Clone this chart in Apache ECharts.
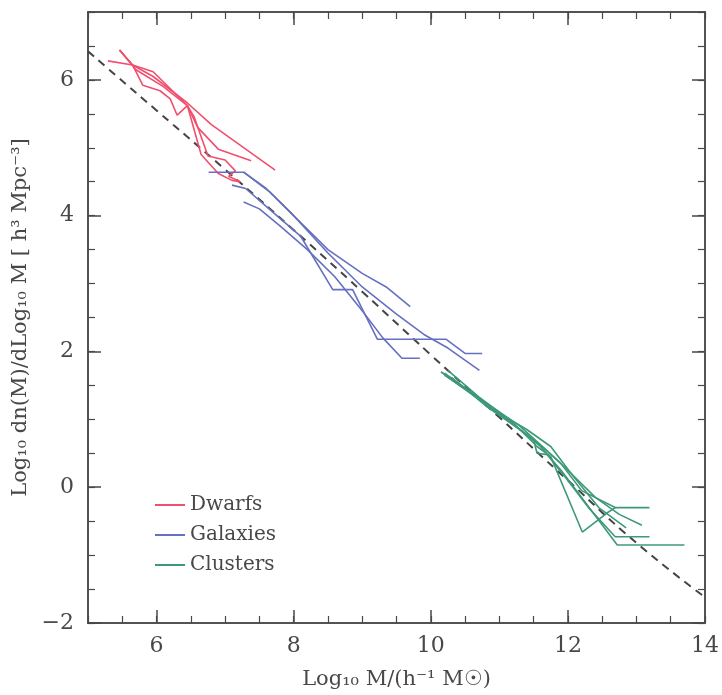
<!DOCTYPE html>
<html>
<head>
<meta charset="utf-8">
<script src="https://cdn.jsdelivr.net/npm/echarts@6/dist/echarts.min.js"></script>
<style>
  html, body { margin: 0; padding: 0; background: #fff; }
  #chart { width: 722px; height: 695px; }
</style>
</head>
<body>
<div id="chart"></div>
<script>
// mass function pieces: [log10 M, log10 dn/dlogM]
var dwarfs = [
  [[5.29,6.28],[5.65,6.22],[5.95,6.05],[6.45,5.66],[6.8,5.34],[7.73,4.67]],
  [[5.46,6.44],[5.65,6.22],[5.8,5.92],[6.05,5.84],[6.2,5.72],[6.3,5.48],[6.45,5.62],[6.6,5.3],[6.9,4.98],[7.38,4.81]],
  [[5.46,6.44],[5.65,6.22],[5.95,6.12],[6.45,5.62],[6.55,5.45],[6.75,4.88],[7.0,4.82],[7.15,4.66],[7.05,4.58],[7.22,4.5]],
  [[5.46,6.44],[5.7,6.15],[6.1,5.9],[6.45,5.62],[6.65,4.9],[6.9,4.62],[7.1,4.52],[7.22,4.5]]
];
var galaxies = [
  [[6.76,4.64],[7.27,4.64],[7.65,4.35],[8.05,3.95],[8.5,3.5],[9.0,3.15],[9.35,2.95],[9.7,2.66]],
  [[7.27,4.64],[7.6,4.4],[8.0,4.0],[8.5,3.45],[9.0,2.95],[9.5,2.55],[9.9,2.25],[10.25,2.05],[10.71,1.72]],
  [[7.1,4.45],[7.3,4.4],[7.7,4.05],[8.1,3.7],[8.57,2.91],[8.86,2.91],[9.22,2.18],[10.22,2.18],[10.5,1.97],[10.75,1.97]],
  [[7.27,4.2],[7.5,4.1],[7.8,3.85],[8.2,3.5],[8.6,3.1],[9.0,2.6],[9.3,2.2],[9.58,1.9],[9.84,1.9]]
];
var clusters = [
  [[10.15,1.7],[10.6,1.38],[11.1,1.0],[11.6,0.62],[11.9,0.35],[12.2,-0.05],[12.69,-0.3],[13.19,-0.3]],
  [[10.25,1.72],[10.7,1.33],[11.2,0.95],[11.55,0.6],[11.75,0.45],[12.21,-0.66],[12.57,-0.38],[12.69,-0.3]],
  [[10.2,1.68],[10.8,1.25],[11.3,0.9],[11.65,0.58],[12.0,0.25],[12.4,-0.15],[12.75,-0.4],[13.08,-0.56]],
  [[10.2,1.65],[10.7,1.3],[11.2,0.93],[11.5,0.7],[11.55,0.5],[11.7,0.48],[12.0,0.1],[12.3,-0.3],[12.69,-0.73],[13.19,-0.73]],
  [[10.3,1.62],[10.8,1.2],[11.3,0.85],[11.6,0.6],[11.9,0.25],[12.2,-0.15],[12.72,-0.85],[13.7,-0.85]],
  [[10.15,1.7],[10.9,1.15],[11.4,0.85],[11.75,0.6],[12.05,0.2],[12.45,-0.3],[12.85,-0.6]]
];
var psCurve = [[5,6.42],[6,5.55],[7,4.68],[8,3.79],[9,2.88],[10,1.95],[11,1.03],[12,0.1],[13,-0.82],[14,-1.62]];

var xTicks = [6, 8, 10, 12];
var xTickLabels = [6, 8, 10, 12, 14];
var yTickLabels = [-2, 0, 2, 4, 6];

var font = 'DejaVu Serif';
var ink = '#484848';

var chartDom = document.getElementById('chart');
var myChart = echarts.init(chartDom);

function group(lines, name, color) {
  return lines.map(function (d) {
    return {
      name: name,
      type: 'line',
      data: d,
      showSymbol: false,
      symbol: 'none',
      silent: true,
      lineStyle: { color: color, width: 1.6 },
      itemStyle: { color: color }
    };
  });
}

function minus(v) { return String(v).replace('-', '\u2212'); }

// one axis per tick length and side, all sharing the same range
function xAx(pos, major, labels) {
  return {
    type: 'value', position: pos, min: 5, max: 14, interval: 0.5,
    axisLine: { show: true, onZero: false, lineStyle: { color: ink, width: 1.5 } },
    splitLine: { show: false },
    axisTick: major
      ? { inside: true, length: 13, customValues: xTicks, lineStyle: { color: ink, width: 1.5 } }
      : { inside: true, length: 7, lineStyle: { color: ink, width: 1.2 } },
    axisLabel: labels
      ? { customValues: xTickLabels, margin: 12, fontSize: 22, fontFamily: font, color: ink }
      : { show: false }
  };
}
function yAx(pos, major, labels) {
  return {
    type: 'value', position: pos, min: -2, max: 7, interval: major ? 2 : 0.5,
    axisLine: { show: true, onZero: false, lineStyle: { color: ink, width: 1.5 } },
    splitLine: { show: false },
    axisTick: major
      ? { inside: true, length: 13, customValues: yTickLabels, lineStyle: { color: ink, width: 1.5 } }
      : { inside: true, length: 7, lineStyle: { color: ink, width: 1.2 } },
    axisLabel: labels
      ? { customValues: yTickLabels, margin: 14, fontSize: 22, fontFamily: font, color: ink, formatter: minus }
      : { show: false }
  };
}

var xMain = xAx('bottom', true, true);
xMain.name = 'Log₁₀ M/(h⁻¹ M☉)';
xMain.nameLocation = 'middle';
xMain.nameGap = 46;
xMain.nameTextStyle = { fontSize: 21, fontFamily: font, color: ink };

var yMain = yAx('left', true, true);
yMain.name = 'Log₁₀ dn(M)/dLog₁₀ M [ h³ Mpc⁻³]';
yMain.nameLocation = 'middle';
yMain.nameGap = 56;
yMain.nameTextStyle = { fontSize: 21, fontFamily: font, color: ink };

var series = []
  .concat(group(dwarfs, 'Dwarfs', '#f0506e'))
  .concat(group(galaxies, 'Galaxies', '#6670c0'))
  .concat(group(clusters, 'Clusters', '#3d9a78'));
series.push({
  name: 'PS',
  type: 'line',
  data: psCurve,
  showSymbol: false,
  symbol: 'none',
  smooth: true,
  silent: true,
  z: 1,
  lineStyle: { color: '#444', width: 2, type: [8, 6] }
});

var option = {
  backgroundColor: '#fff',
  animation: false,
  grid: { left: 88, right: 10, top: 12, bottom: 68 },
  legend: {
    data: ['Dwarfs', 'Galaxies', 'Clusters'],
    orient: 'vertical',
    left: 150, top: 490,
    icon: 'rect',
    itemWidth: 30, itemHeight: 2, itemGap: 10,
    textStyle: { fontSize: 20, fontFamily: font, color: ink }
  },
  xAxis: [xMain, xAx('bottom', false, false), xAx('top', true, false), xAx('top', false, false)],
  yAxis: [yMain, yAx('left', false, false), yAx('right', true, false), yAx('right', false, false)],
  series: series
};

myChart.setOption(option);
</script>
</body>
</html>
